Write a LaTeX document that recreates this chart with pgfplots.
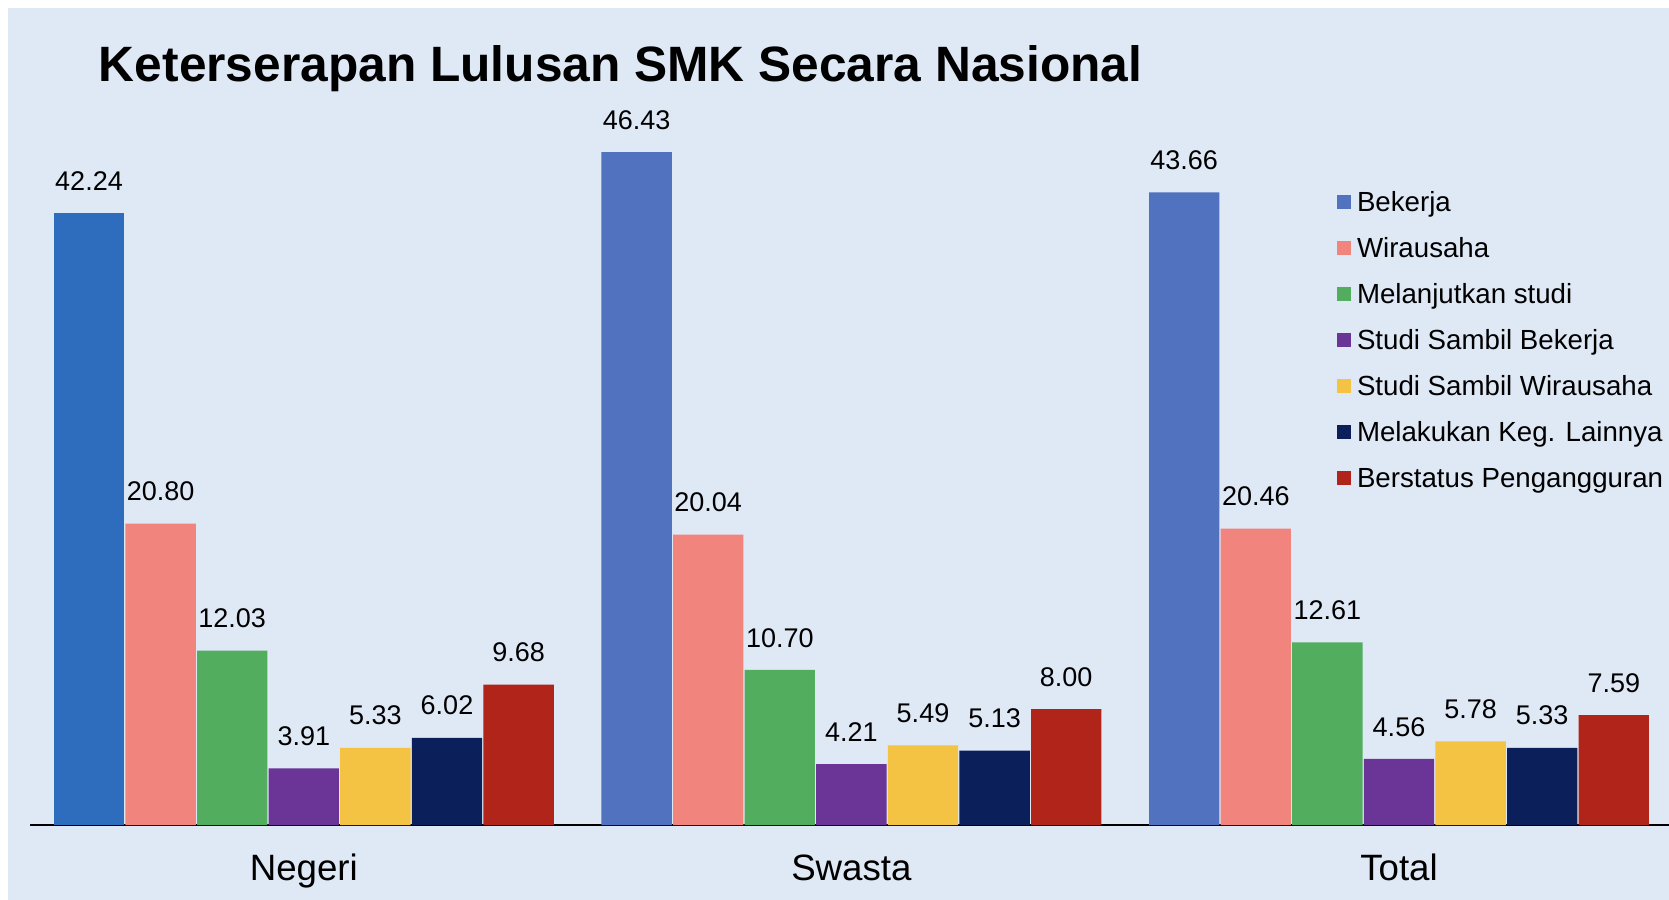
\documentclass[border=0pt]{standalone}
\usepackage{fontspec}
\setmainfont{Liberation Sans}
\usepackage{pgfplots}
\pgfplotsset{compat=1.18}
\definecolor{bg}{HTML}{DFE8F5}
\definecolor{cBekN}{HTML}{2E6DBD}
\definecolor{cBek}{HTML}{5173BF}
\definecolor{cWir}{HTML}{F1857D}
\definecolor{cMel}{HTML}{52AE5E}
\definecolor{cSSB}{HTML}{6A3596}
\definecolor{cSSW}{HTML}{F5C343}
\definecolor{cLain}{HTML}{0B1F5B}
\definecolor{cPeng}{HTML}{B02419}
\pgfplotsset{mybar/.style 2 args={ybar, bar width=0.1285, bar shift=#1, fill=#2, draw=none,
  every node near coord/.append style={xshift={#1*164.28pt}},
  legend image code/.code={\fill[#2] (0pt,-2.1pt) rectangle (4.2pt,2.1pt);}}}
\begin{document}
\begin{tikzpicture}
\fill[white] (0pt,0pt) rectangle (500.7pt,-270pt);
\fill[bg] (2.4pt,-2.4pt) rectangle (500.7pt,-270pt);
\node[anchor=base west, inner sep=0pt, font=\fontsize{14.9}{17}\selectfont\bfseries] at (29.5pt,-24.5pt) {Keterserapan Lulusan SMK Secara Nasional};
\begin{axis}[
  at={(9pt,-247.5pt)}, anchor=south west,
  scale only axis, width=491.85pt, height=217.35pt,
  xmin=-0.5, xmax=2.494, ymin=0, ymax=50,
  axis x line*=bottom, axis y line=none,
  x axis line style={-, line width=0.75pt, black},
  xtick={0,1,2}, xticklabels={Negeri,Swasta,Total},
  major tick length=0pt,
  xticklabel style={anchor=base, yshift=-16.5pt, font=\fontsize{11}{13}\selectfont},
  clip=false,
  /pgf/number format/assume math mode=true,
  nodes near coords={\pgfmathprintnumber[fixed,fixed zerofill,precision=2,assume math mode=true]{\pgfplotspointmeta}},
  nodes near coords style={font=\fontsize{8.1}{9.5}\selectfont, anchor=south, inner sep=0pt, yshift=6.6pt, text=black},
  point meta=y,
  legend style={at={(0.7972,0.8737)}, anchor=north west, draw=none, fill=none,
    inner sep=0pt, outer sep=0pt, font=\fontsize{8.3}{10}\selectfont,
    row sep=7.9pt, column sep=1.8pt,
    nodes={inner sep=0pt, text height=5.9pt, text depth=0pt, anchor=west}},
  legend cell align=left,
]
\addplot[mybar={-0.39225}{cBek}] coordinates {(1,46.43) (2,43.66)};
\addplot[mybar={-0.2615}{cWir}] coordinates {(0,20.80) (1,20.04) (2,20.46)};
\addplot[mybar={-0.13075}{cMel}] coordinates {(0,12.03) (1,10.70) (2,12.61)};
\addplot[mybar={0}{cSSB}] coordinates {(0,3.91) (1,4.21) (2,4.56)};
\addplot[mybar={0.13075}{cSSW}] coordinates {(0,5.33) (1,5.49) (2,5.78)};
\addplot[mybar={0.2615}{cLain}] coordinates {(0,6.02) (1,5.13) (2,5.33)};
\addplot[mybar={0.39225}{cPeng}] coordinates {(0,9.68) (1,8.00) (2,7.59)};
\addplot[mybar={-0.39225}{cBekN}, forget plot] coordinates {(0,42.24)};
\legend{Bekerja, Wirausaha, Melanjutkan studi, Studi Sambil Bekerja, Studi Sambil Wirausaha, Melakukan Keg. Lainnya, Berstatus Pengangguran}
\end{axis}
\pgfresetboundingbox
\path[use as bounding box] (0pt,0pt) rectangle (500.7pt,-270pt);
\end{tikzpicture}
\end{document}
